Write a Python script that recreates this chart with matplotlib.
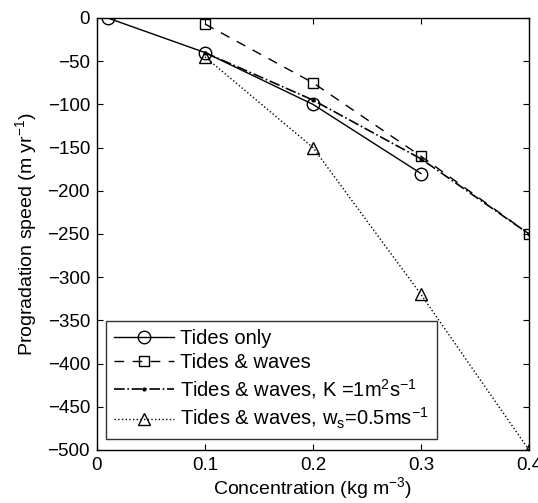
import matplotlib
matplotlib.use('Agg')
import matplotlib.pyplot as plt

plt.rcParams['font.family'] = ['Liberation Sans', 'DejaVu Sans']
plt.rcParams['mathtext.fontset'] = 'custom'
plt.rcParams['mathtext.rm'] = 'Liberation Sans'
plt.rcParams['mathtext.it'] = 'Liberation Sans'

# concentration (kg m^-3) and progradation speed (m/yr)
conc_tides = [0.01, 0.1, 0.2, 0.3]
speed_tides = [0, -40, -100, -180]

conc_waves = [0.1, 0.2, 0.3, 0.4]
speed_waves = [-7, -75, -160, -250]

conc_k = [0.1, 0.2, 0.3, 0.4]
speed_k = [-40, -95, -163, -250]

conc_ws = [0.1, 0.2, 0.3, 0.4]
speed_ws = [-45, -150, -320, -500]

fig = plt.figure(figsize=(5.38, 5.03), dpi=100)
ax = fig.add_axes([97/538, 53/503, 432/538, 432/503])

ax.plot(conc_tides, speed_tides, '-', color='k', lw=1, marker='o', ms=9,
        mfc='none', mec='k', label='Tides only')
ax.plot(conc_waves, speed_waves, color='k', lw=1, dashes=(7, 6), marker='s', ms=6.5,
        mfc='none', mec='k', label='Tides & waves')
ax.plot(conc_k, speed_k, '-.', color='k', lw=1.2, marker='.', ms=4,
        label='Tides & waves, K =1m$^2$s$^{-1}$')
ax.plot(conc_ws, speed_ws, ':', color='k', lw=1, marker='^', ms=9,
        mfc='none', mec='k', label='Tides & waves, w$_\\mathrm{s}$=0.5ms$^{-1}$')

ax.set_xlim(0, 0.4)
ax.set_ylim(-500, 0)
ax.set_xticks([0, 0.1, 0.2, 0.3, 0.4])
ax.set_xticklabels(['0', '0.1', '0.2', '0.3', '0.4'])
ax.set_yticks(range(-500, 1, 50))
ax.set_yticklabels([('\u2212%d' % -v) if v < 0 else '0' for v in range(-500, 1, 50)])
ax.tick_params(direction='in', top=True, right=True, labelsize=13.5, length=4, pad=5)
for s in ax.spines.values():
    s.set_linewidth(1)

ax.set_xlabel('Concentration (kg m$^{-3}$)', fontsize=14, labelpad=1)
ax.set_ylabel('Progradation speed (m yr$^{-1}$)', fontsize=14, labelpad=6)

leg = ax.legend(loc='lower left', bbox_to_anchor=(0.02, 0.025), fontsize=14.5,
                frameon=True, fancybox=False, edgecolor='k', handlelength=3.0,
                handletextpad=0.3, borderaxespad=0, labelspacing=0.25, borderpad=0.4)
leg.get_frame().set_linewidth(1)

fig.savefig('out.png', dpi=100)
